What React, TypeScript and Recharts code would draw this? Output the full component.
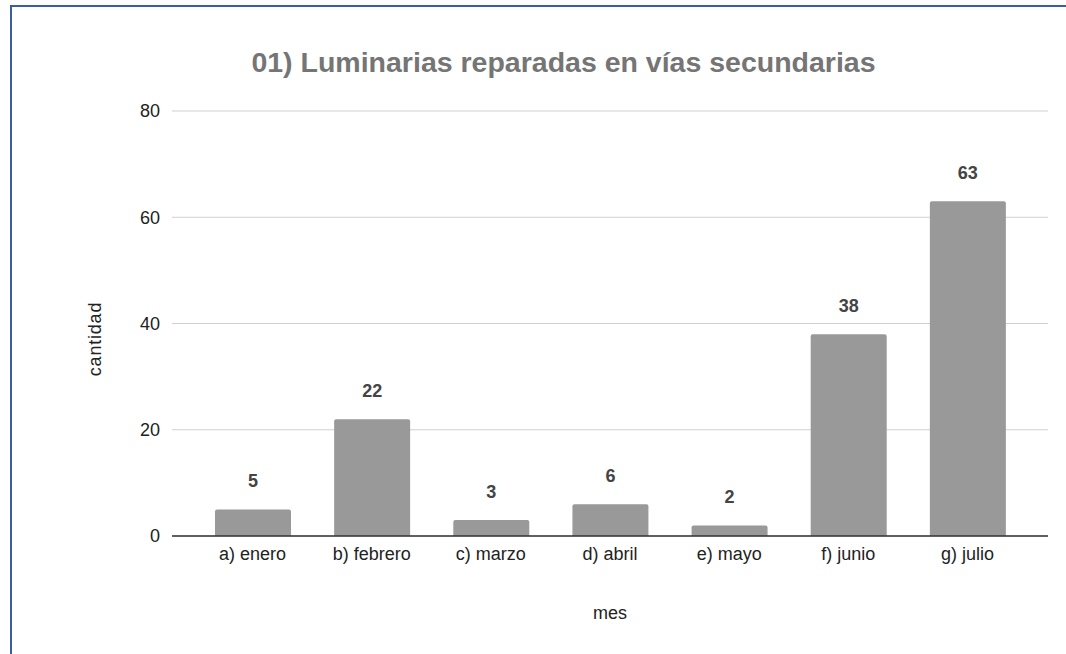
// Luminarias reparadas en vías secundarias, bar chart by month
import { BarChart, Bar, XAxis, YAxis, CartesianGrid, LabelList, Label } from "recharts";

const months = ["a) enero", "b) febrero", "c) marzo", "d) abril", "e) mayo", "f) junio", "g) julio"];
const cantidad = [5, 22, 3, 6, 2, 38, 63];
const yTicks = [0, 20, 40, 60, 80];

const data = months.map((mes, i) => ({ mes, cantidad: cantidad[i] }));

const font = "Liberation Sans, Arial, sans-serif";

export default function App() {
  return (
    <div style={{ position: "fixed", left: 0, top: 0, width: 1066, height: 654, background: "#fff", fontFamily: font }}>
      {/* frame edges */}
      <div style={{ position: "absolute", left: 10, top: 5, width: 1056, height: 649, borderLeft: "2px solid #3b5f9a", borderTop: "2px solid #3b5f9a" }} />
      <div
        style={{
          position: "absolute",
          left: 0,
          width: 1127,
          top: 46,
          textAlign: "center",
          fontSize: 28.5,
          fontWeight: "bold",
          color: "#757575",
        }}
      >
        01) Luminarias reparadas en vías secundarias
      </div>
      {/* y axis title */}
      <div
        style={{
          position: "absolute",
          left: 95,
          top: 339,
          transform: "translate(-50%, -50%) rotate(-90deg)",
          fontSize: 18,
          letterSpacing: 0.8,
          color: "#222",
          whiteSpace: "nowrap",
          zIndex: 2,
        }}
      >
        cantidad
      </div>
      <BarChart
        width={1066}
        height={654}
        data={data}
        margin={{ top: 111, right: 18, bottom: 88, left: 102 }}
        style={{ position: "absolute", left: 0, top: 0 }}
      >
        <CartesianGrid vertical={false} stroke="#d0d0d0" />
        <XAxis
          dataKey="mes"
          height={30}
          padding={{ left: 21, right: 21 }}
          tickLine={false}
          axisLine={{ stroke: "#333", strokeWidth: 1.5 }}
          tick={{ fill: "#222", fontSize: 18, fontFamily: font }}
          tickMargin={5}
          interval={0}
        >
          <Label value="mes" position="bottom" offset={40} fill="#222" fontSize={18} fontFamily={font} />
        </XAxis>
        <YAxis
          width={70}
          domain={[0, 80]}
          ticks={yTicks}
          axisLine={false}
          tickLine={false}
          tick={{ fill: "#222", fontSize: 18, fontFamily: font }}
          tickMargin={6}
        />
        <Bar dataKey="cantidad" fill="#999999" barSize={76} radius={[2, 2, 0, 0]} isAnimationActive={false}>
          <LabelList dataKey="cantidad" position="top" offset={22} fill="#444" fontSize={18} fontWeight="bold" fontFamily={font} />
        </Bar>
      </BarChart>
    </div>
  );
}
